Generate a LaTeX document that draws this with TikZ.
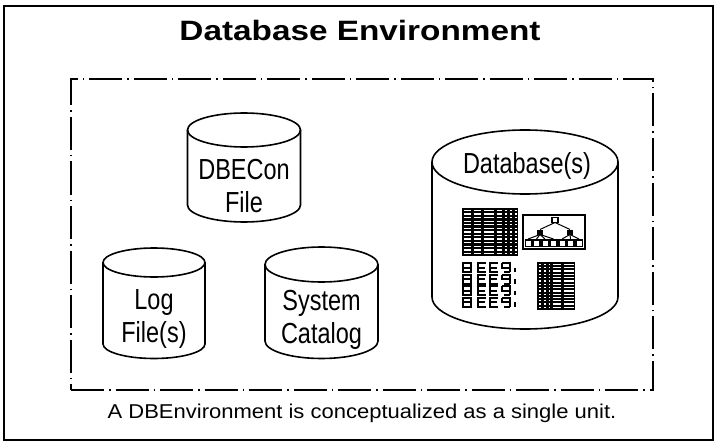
\documentclass[tikz,border=0pt]{standalone}
\usepackage{fontspec}
\setmainfont{Liberation Sans}
\newfontfamily\headfont[FakeStretch=1.19]{Liberation Sans}
\newfontfamily\notefont[FakeStretch=1.10]{Liberation Sans}
\newfontfamily\drumfont[FakeStretch=0.81]{Liberation Sans}

\begin{document}
\begin{tikzpicture}[x=1pt, y=1pt,
    drumline/.style={line width=1.6pt},
    drumtext/.style={font=\drumfont\fontsize{29}{32.5}\selectfont, align=center, anchor=base, inner sep=0pt},
    envbox/.style={draw, line width=1.6pt, dash pattern=on 33pt off 5pt on 1.5pt off 5pt, minimum width=582pt, minimum height=311pt, inner sep=0pt},
    cell/.style={white, line width=1.3pt},
    glyph/.style={line width=2pt},
    pics/drum/.style n args={3}{code={
        \draw[drumline] (-#1,0) -- (-#1,-#3) arc[start angle=180, end angle=360, x radius=#1, y radius=#2] -- (#1,0);
        \draw[drumline] (0,0) ellipse[x radius=#1, y radius=#2];
    }}
]
    \useasboundingbox (0,0) rectangle (719,445);
    \draw[line width=1.2pt] (4,5) rectangle (713,439);

    \node[font=\headfont\bfseries\fontsize{28}{30}\selectfont, anchor=base] (title) at (360,404) {Database Environment};
    \node[envbox] (env) at (362,210.5) {};
    \node[font=\notefont\fontsize{20}{22}\selectfont, anchor=base] (caption) at (362,27) {A DBEnvironment is conceptualized as a single unit.};

    % the files (base = last line)
    \pic at (244,315) {drum={56.5}{17}{75}};
    \node[drumtext] (dbecon) at (244,233) {DBECon\\File};
    \pic at (154,182.5) {drum={51}{14.5}{81.5}};
    \node[drumtext] (logs) at (154,103) {Log\\File(s)};
    \pic at (321.5,180.5) {drum={56.5}{17.5}{76.5}};
    \node[drumtext] (catalog) at (321.5,102) {System\\Catalog};

    % the database
    \pic at (525,283) {drum={93}{32}{135}};
    \node[drumtext] (dbs) at (527,272) {Database(s)};

    % table, top left
    \fill (462,237) rectangle (518,189);
    \foreach \r in {0,...,12}
      \foreach \a/\b in {462/472,472/482,482/495,495/503,503/508,508/513,513/518}
        \draw[cell] ({\a+1.5},{234.5-\r*3.58}) -- ({\b-1.5},{234.5-\r*3.58});

    % table, bottom right
    \fill (537,183) rectangle (575,135);
    \foreach \r in {0,...,13}
      \foreach \a/\b in {537/542,542/547,547/551,551/562,562/575}
        \draw[cell] ({\a+1.5},{180.5-\r*3.3}) -- ({\b-1.5},{180.5-\r*3.3});

    % hierarchy
    \draw[line width=1.2pt] (523,230) rectangle (585,196);
    \fill (525,206) rectangle (583,198);
    \foreach \x in {528,536.5,545,553.5,562,570.5,579}
      \fill[white] ({\x-2.5},204.5) rectangle ({\x+2.5},199.5);
    \draw[line width=1.2pt] (552,227.5) rectangle (558,222.5);
    \fill (537,215.5) rectangle (543,210.5);
    \fill (567,215.5) rectangle (573,210.5);
    \draw[line width=1pt] (555,222.5) -- (540,215.5) (555,222.5) -- (570,215.5);
    \foreach \x in {528,536.5,545,553.5}
      \draw[line width=1pt] (540,210.5) -- (\x,206);
    \foreach \x in {562,570.5,579}
      \draw[line width=1pt] (570,210.5) -- (\x,206);

    % coded records, bottom left
    \foreach \r in {0,...,3} {
      \pgfmathsetmacro{\y}{182-\r*11.5}
      \draw[glyph] (463,\y) rectangle (471,\y-9) (463,\y-4.5) -- (471,\y-4.5);
      \draw[glyph] (486,\y) -- (478,\y) -- (478,\y-9) -- (486,\y-9) (478,\y-4.5) -- (485,\y-4.5);
      \draw[glyph] (498,\y) -- (490,\y) -- (490,\y-9) -- (498,\y-9) (490,\y-4.5) -- (497,\y-4.5);
      \draw[glyph] (502,\y) -- (510,\y) -- (510,\y-9) (502,\y) -- (502,\y-4.5) -- (510,\y-4.5) (504,\y-9) -- (510,\y-9);
      \draw[glyph] (515,\y-4.5) -- (515,\y-9);
    }
\end{tikzpicture}
\end{document}
